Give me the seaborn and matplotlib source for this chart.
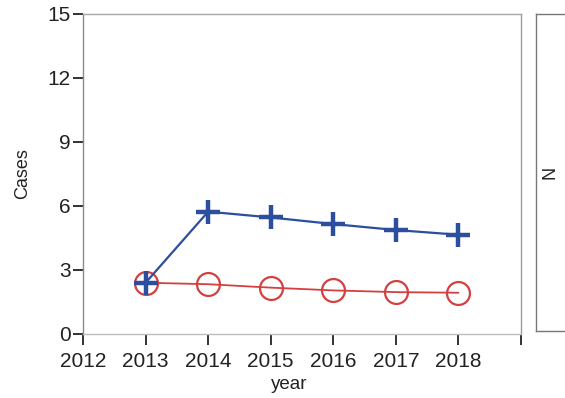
import matplotlib
matplotlib.use("Agg")
import matplotlib.pyplot as plt
import seaborn as sns
import pandas as pd

# Yearly case counts for the two series
years = [2013, 2014, 2015, 2016, 2017, 2018]
series_plus = [2.4, 5.73, 5.46, 5.15, 4.87, 4.65]
series_circle = [2.4, 2.33, 2.17, 2.04, 1.96, 1.93]
x_ticks = [2012, 2013, 2014, 2015, 2016, 2017, 2018, 2019]
x_labels = ["2012", "2013", "2014", "2015", "2016", "2017", "2018", ""]
y_ticks = [0, 3, 6, 9, 12, 15]

sns.set_theme(style="white")
plt.rcParams["font.family"] = ["Liberation Sans", "DejaVu Sans"]

df_plus = pd.DataFrame({"year": years, "Cases": series_plus})
df_circle = pd.DataFrame({"year": years, "Cases": series_circle})

blue = "#2b4f9e"
red = "#d3403f"

fig = plt.figure(figsize=(5.65, 3.98), dpi=100)
ax = fig.add_axes([0.147, 0.161, 0.775, 0.804])

sns.lineplot(data=df_circle, x="year", y="Cases", ax=ax, color=red,
             linewidth=1.3, marker="o", markersize=16.5,
             markerfacecolor="none", markeredgecolor=red,
             markeredgewidth=1.6, zorder=2)
sns.lineplot(data=df_plus, x="year", y="Cases", ax=ax, color=blue,
             linewidth=1.6, marker="+", markersize=17,
             markeredgecolor=blue, markeredgewidth=3.2, zorder=3)

ax.set_xlim(2012, 2019)
ax.set_ylim(0, 15)
ax.set_xticks(x_ticks)
ax.set_xticklabels(x_labels)
ax.set_yticks(y_ticks)

ax.tick_params(axis="both", which="major", direction="out",
               width=1.4, color="#333333", labelsize=15, labelcolor="#222222",
               bottom=True, left=True)
ax.tick_params(axis="x", length=8, pad=5)
ax.tick_params(axis="y", length=7, pad=2)

for side in ["left", "right", "top", "bottom"]:
    ax.spines[side].set_visible(True)
    ax.spines[side].set_linewidth(1.0)
ax.spines["left"].set_color("#8a8a8a")
ax.spines["right"].set_color("#9a9a9a")
ax.spines["top"].set_color("#a8a8a8")
ax.spines["bottom"].set_color("#bdbdbd")

ax.set_xlabel("year", fontsize=13.5, color="#222222")
ax.set_ylabel("Cases", fontsize=13, color="#222222")
ax.xaxis.set_label_coords(0.47, -0.13)
ax.yaxis.set_label_coords(-0.118, 0.5)

# Neighbouring panel, partly visible at the right edge
ax2 = fig.add_axes([0.949, 0.168, 0.2, 0.797])
ax2.set_xticks([])
ax2.set_yticks([])
for side in ["left", "right", "top", "bottom"]:
    ax2.spines[side].set_visible(True)
    ax2.spines[side].set_color("#777777")
    ax2.spines[side].set_linewidth(1.0)
ax2.text(0.05, 0.5, "N", transform=ax2.transAxes, rotation=90,
         fontsize=13, color="#222222", ha="left", va="center")

fig.savefig("out.png", dpi=100)
